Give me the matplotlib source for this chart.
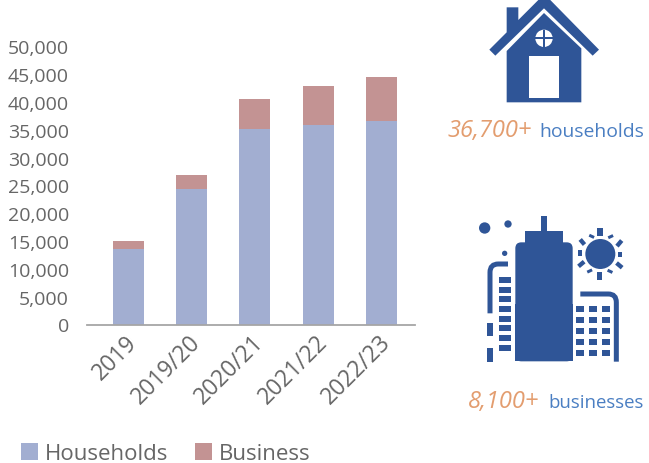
import numpy as np
import matplotlib
matplotlib.use('Agg')
import matplotlib.pyplot as plt
from matplotlib.patches import Polygon, Circle, Rectangle, FancyBboxPatch, PathPatch
from matplotlib.path import Path
from matplotlib.transforms import ScaledTranslation

years = ['2019', '2019/20', '2020/21', '2021/22', '2022/23']
households = [13600, 24300, 35200, 35900, 36600]
business = [1400, 2600, 5300, 7000, 8000]
yticks = [0, 5000, 10000, 15000, 20000, 25000, 30000, 35000, 40000, 45000, 50000]

W, H = 649, 464
blue = '#2F5597'
grey = '#666666'
plt.rcParams['font.family'] = ['Open Sans', 'DejaVu Sans']

fig = plt.figure(figsize=(W / 100, H / 100), dpi=100)

# chart axes, placed in pixels
ax = fig.add_axes([87 / W, 1 - 325.5 / H, 328 / W, 278 / H])
x = np.arange(len(years))
ax.bar(x, households, width=0.49, color='#A2AED1', label='Households')
ax.bar(x, business, width=0.49, bottom=households, color='#C39393', label='Business')
ax.set_xlim(-0.656, 4.53)
ax.set_ylim(0, 50000)
ax.set_yticks(yticks)
ax.set_yticklabels([f'{v:,}' for v in yticks], fontsize=14, color=grey)
ax.set_xticks(x)
ax.set_xticklabels(years, rotation=45, ha='right', rotation_mode='anchor', fontsize=16.5, color=grey)
ax.tick_params(axis='both', length=0)
ax.tick_params(axis='y', pad=13)
ax.tick_params(axis='x', pad=4)
for lab in ax.get_xticklabels():
    lab.set_transform(lab.get_transform() + ScaledTranslation(-3 / 100, 0, fig.dpi_scale_trans))
for s in ['top', 'left', 'right']:
    ax.spines[s].set_visible(False)
ax.spines['bottom'].set_color('#A6A6A6')
ax.spines['bottom'].set_linewidth(1.3)

fig.legend(loc='lower left', bbox_to_anchor=(1 / W, -21.5 / H), ncol=2, frameon=False, fontsize=16,
           labelcolor=grey, handlelength=0.78, handleheight=0.78, handletextpad=0.3, columnspacing=1.2)

# overlay in pixel coordinates for the icons and captions
ov = fig.add_axes([0, 0, 1, 1])
ov.set_xlim(0, W)
ov.set_ylim(H, 0)
ov.axis('off')
ov.patch.set_alpha(0)


def house(zx, zy):
    return 440 + zx / 3, zy / 3


def city(zx, zy):
    return 440 + zx / 3, 205 + zy / 3


def poly(pts, conv, color=blue):
    ov.add_patch(Polygon([conv(*p) for p in pts], closed=True, fc=color, ec='none'))


def rect(x0, y0, x1, y1, conv, color=blue):
    a = conv(x0, y0)
    b = conv(x1, y1)
    ov.add_patch(Rectangle(a, b[0] - a[0], b[1] - a[1], fc=color, ec='none'))


def circ(cx, cy, r, conv, color=blue):
    ov.add_patch(Circle(conv(cx, cy), r / 3, fc=color, ec='none'))


def bend(p0, p1, c, p2, p3):
    verts = [city(*p) for p in [p0, p1, c, p2, p3]]
    codes = [Path.MOVETO, Path.LINETO, Path.CURVE3, Path.CURVE3, Path.LINETO]
    ov.add_patch(PathPatch(Path(verts, codes), fc='none', ec=blue, lw=3.6, capstyle='butt'))


# house
poly([(148, 152), (200, 100), (200, 25), (235, 25), (235, 63), (303, -5), (323, -5), (477, 152), (458, 170),
      (312, 28), (166, 170)], house)
poly([(200, 156), (312, 42), (424, 148), (424, 310), (200, 310)], house)
rect(268, 172, 356, 298, house, 'white')
circ(312, 118, 26, house, 'white')
rect(309, 92, 315, 144, house)
rect(286, 115, 338, 121, house)

# city: dots
circ(134, 72, 17, city)
circ(204, 60, 11, city)
circ(194, 148, 8, city)
# tower
rect(303, 36, 321, 85, city)
rect(254, 82, 368, 120, city)
tx, ty = city(226, 115)
ov.add_patch(FancyBboxPatch((tx, ty), 172 / 3, 357 / 3, boxstyle='round,pad=0,rounding_size=6', fc=blue, ec='none'))
rect(226, 300, 398, 472, city)
# left building
bend((150, 328), (150, 205), (150, 180), (175, 180), (204, 180))
rect(141, 356, 159, 396, city)
rect(141, 432, 159, 473, city)
for zy in [219, 248, 277, 306, 335, 364, 393, 423]:
    rect(177, zy, 213, zy + 18, city)
# right building
bend((421, 270), (505, 270), (529, 270), (529, 295), (529, 473))
for zy in [306, 339, 372, 405, 438]:
    for zx in [408, 447, 486]:
        rect(zx, zy, zx + 24, zy + 18, city)
# sun
circ(481, 150, 45, city)
rect(471, 72, 489, 95, city)
rect(471, 204, 487, 227, city)
rect(414, 138, 426, 157, city)
rect(535, 143, 547, 160, city)
for cx, cy, a, w, h in [(427, 114, -50, 20, 13), (455, 97, -25, 16, 9), (512, 98, 25, 16, 9), (538, 118, 50, 22, 13),
                        (424, 180, 40, 22, 13), (449, 201, 25, 16, 9), (510, 202, -25, 16, 9), (538, 184, -40, 22, 13)]:
    t = np.deg2rad(-a)
    c, s = np.cos(t), np.sin(t)
    pts = [(cx + dx * c - dy * s, cy + dx * s + dy * c)
           for dx, dy in [(-w / 2, -h / 2), (w / 2, -h / 2), (w / 2, h / 2), (-w / 2, h / 2)]]
    poly(pts, city)

# captions
orange = '#E39D6F'
capblue = '#4A7EC2'
ov.text(447, 137, '36,700+', fontsize=17, style='italic', color=orange, ha='left', va='baseline')
ov.text(644, 137, 'households', fontsize=13.9, color=capblue, ha='right', va='baseline')
ov.text(468, 408, '8,100+', fontsize=17, style='italic', color=orange, ha='left', va='baseline')
ov.text(644, 408, 'businesses', fontsize=13.4, color=capblue, ha='right', va='baseline')

fig.savefig('out.png', dpi=100)
